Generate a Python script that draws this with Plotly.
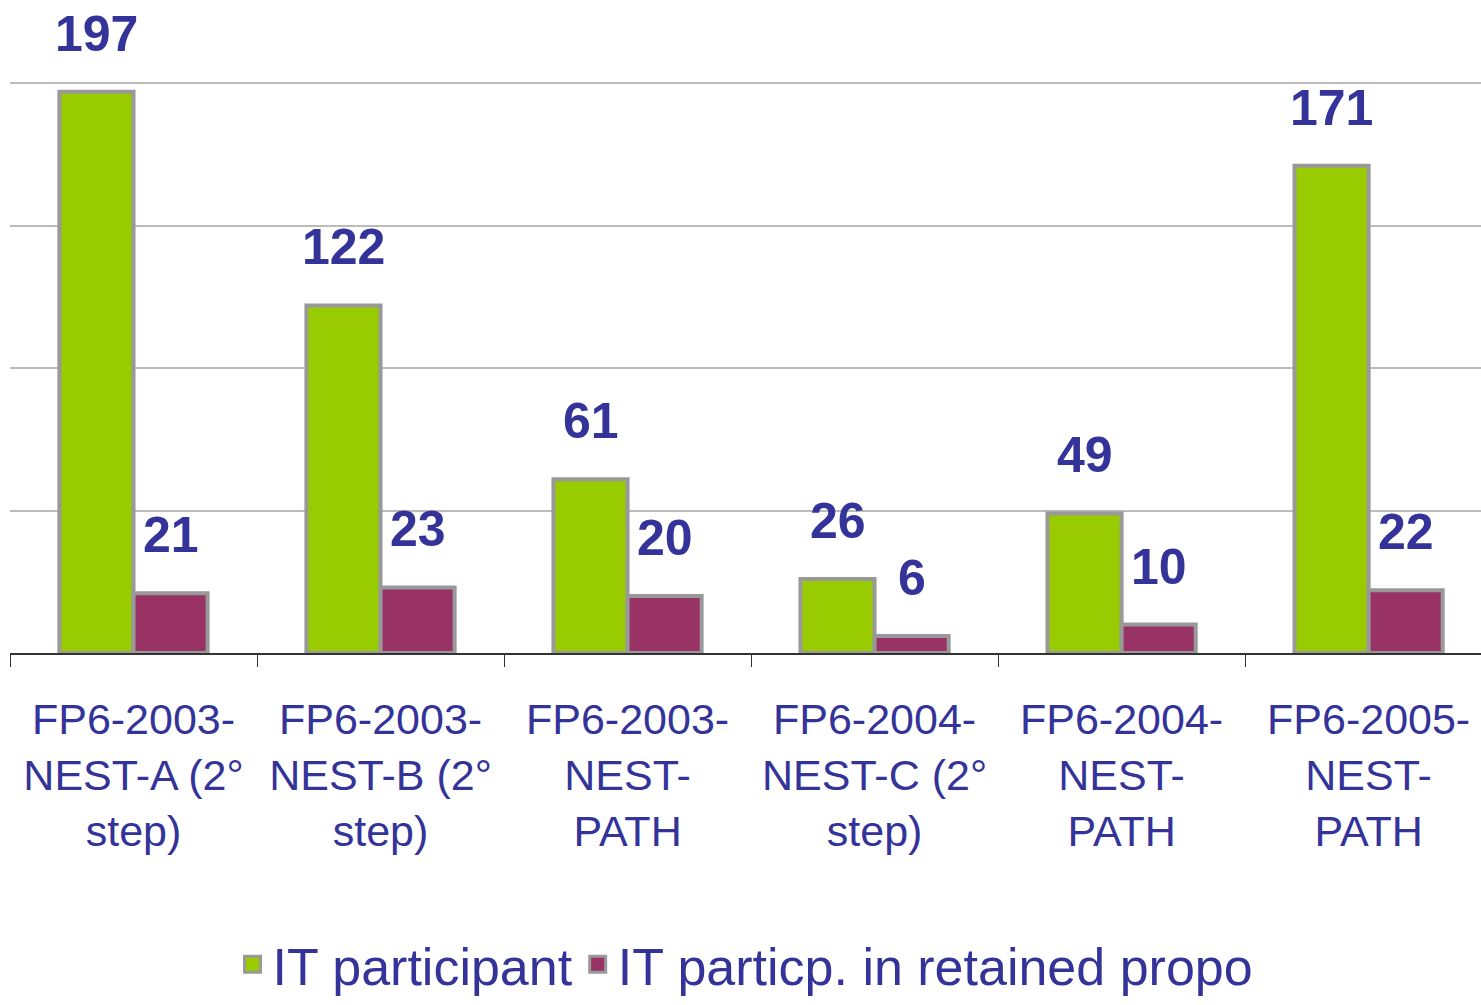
import plotly.graph_objects as go

# data
categories = [
    "FP6-2003-<br>NEST-A (2°<br>step)",
    "FP6-2003-<br>NEST-B (2°<br>step)",
    "FP6-2003-<br>NEST-<br>PATH",
    "FP6-2004-<br>NEST-C (2°<br>step)",
    "FP6-2004-<br>NEST-<br>PATH",
    "FP6-2005-<br>NEST-<br>PATH",
]
it_participant = [197, 122, 61, 26, 49, 171]
it_retained = [21, 23, 20, 6, 10, 22]

series_names = ["IT participant", "IT particp. in retained propo"]
colors = ["#99CC00", "#993366"]
text_color = "#333399"
font_family = "Liberation Sans"

fig = go.Figure()
for name, vals, col in zip(series_names, [it_participant, it_retained], colors):
    fig.add_trace(go.Bar(
        x=categories, y=vals, name=name, showlegend=False,
        marker=dict(color=col, line=dict(color="#999999", width=4)),
    ))
    # legend-only entry with a bigger square swatch
    fig.add_trace(go.Scatter(
        x=[None], y=[None], mode="markers", name=name,
        marker=dict(symbol="square", size=16, color=col, line=dict(color="#999999", width=3)),
    ))

# value labels, floating above each bar
bargap = 0.4
half = (1 - bargap) / 4
for vals, off in [(it_participant, -half), (it_retained, half)]:
    for i, v in enumerate(vals):
        fig.add_annotation(
            x=i + off, y=v, text="<b>%d</b>" % v, showarrow=False,
            yanchor="bottom", yshift=28,
            font=dict(family=font_family, size=50, color=text_color),
        )

fig.update_layout(
    width=1481, height=1005,
    margin=dict(l=10, r=0, t=82, b=352),
    plot_bgcolor="white", paper_bgcolor="white",
    barmode="group", bargap=bargap, bargroupgap=0,
    font=dict(family=font_family, color=text_color),
    legend=dict(
        orientation="h", x=0.5, xanchor="center",
        yref="container", y=0, yanchor="bottom",
        font=dict(size=52, color=text_color, family=font_family), itemwidth=30,
    ),
)
fig.update_xaxes(
    type="category", automargin=False,
    range=[-0.5, 5.455], showline=True, linecolor="#333333", linewidth=1.5,
    ticks="outside", ticklen=12, tickcolor="#333333", tickson="boundaries",
    ticklabelstandoff=28,
    tickfont=dict(size=43, color=text_color, family=font_family), showgrid=False,
)
fig.update_yaxes(
    range=[0, 200.4], dtick=50, showticklabels=False, automargin=False,
    gridcolor="#BBBBBB", gridwidth=1.5, zeroline=False,
)

# drop the default page margin so the figure sits at the window corner
fig.write_html("out.html", config={"displayModeBar": False},
               post_script="document.body.style.margin='0';")
